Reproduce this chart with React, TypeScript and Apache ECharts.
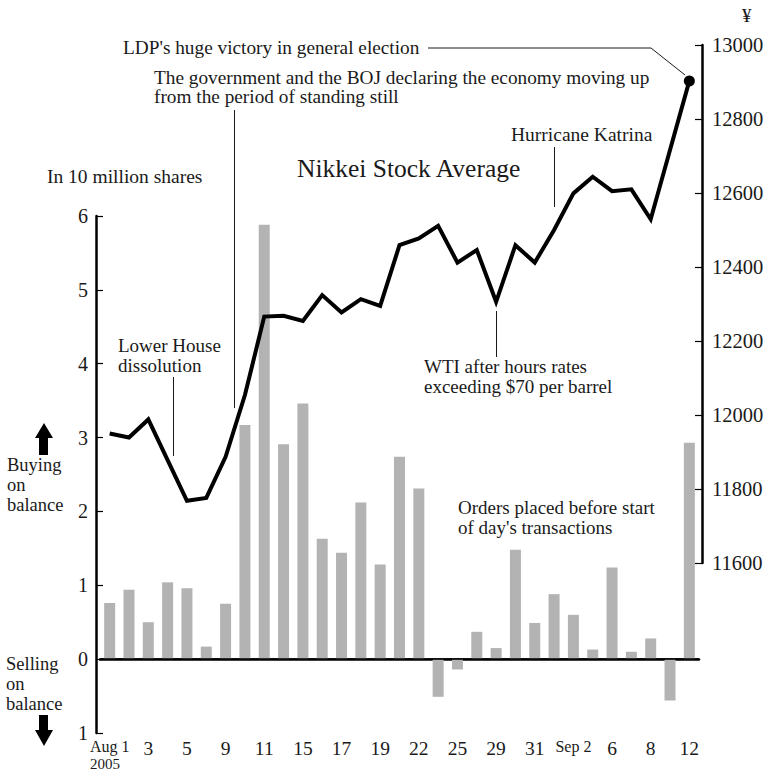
import React, { useEffect, useRef } from "react";
import * as echarts from "echarts";

// Trading-day tick labels (every other day is labelled)
const tickLabels = [
  "Aug 1", "", "3", "", "5", "", "9", "", "11", "", "15", "", "17", "", "19", "",
  "22", "", "25", "", "29", "", "31", "", "Sep 2", "", "6", "", "8", "", "12",
];
const dayIndex = tickLabels.map((_, i) => String(i));

// Orders placed before start of day's transactions (in 10 million shares, + buying / - selling)
const netOrders = [
  0.76, 0.94, 0.5, 1.04, 0.96, 0.17, 0.75, 3.17, 5.88, 2.91, 3.46, 1.63, 1.44, 2.12, 1.28,
  2.74, 2.31, -0.51, -0.14, 0.37, 0.15, 1.48, 0.49, 0.88, 0.6, 0.13, 1.24, 0.1, 0.28, -0.56, 2.93,
];

// Nikkei Stock Average (yen)
const nikkei = [
  11950, 11939, 11988, 11878, 11768, 11776, 11887, 12054, 12266, 12268, 12254, 12324, 12277,
  12313, 12295, 12459, 12477, 12511, 12412, 12446, 12306, 12459, 12412, 12500, 12599, 12644,
  12605, 12610, 12529, 12716, 12903,
];

const leftAxis = { min: -1, max: 6, interval: 1 };
const rightAxis = { min: 11600, max: 13000, interval: 200 };

const FONT = "Liberation Serif";
const INK = "#1a1a1a";

// single-line text, vertically centred on y
function txt(x: number, y: number, text: string, size = 19.5) {
  return {
    type: "text",
    x,
    y,
    silent: true,
    style: {
      text,
      fill: INK,
      fontFamily: FONT,
      fontSize: size,
      align: "left",
      verticalAlign: "middle",
    },
  };
}
// multi-line text, first line centred on y
function mtxt(x: number, y: number, text: string, size = 18.5, lineHeight = 20) {
  return {
    type: "text",
    x,
    y: y - lineHeight / 2,
    silent: true,
    style: {
      text,
      fill: INK,
      fontFamily: FONT,
      fontSize: size,
      lineHeight,
      align: "left",
      verticalAlign: "top",
    },
  };
}
function vline(x: number, y1: number, y2: number) {
  return {
    type: "line",
    silent: true,
    shape: { x1: x, y1, x2: x, y2 },
    style: { stroke: INK, lineWidth: 1 },
  };
}

export default function App() {
  const ref = useRef<HTMLDivElement>(null);
  useEffect(() => {
    if (!ref.current) return;
    const chart = echarts.init(ref.current, undefined, { renderer: "svg" });
    const last = nikkei.length - 1;
    chart.setOption({
      animation: false,
      backgroundColor: "#ffffff",
      textStyle: { fontFamily: FONT, color: INK },
      grid: [
        { left: 100, right: 71, top: 216, bottom: 40 },
        { left: 100, right: 71, top: 45, bottom: 210 },
      ],
      xAxis: [
        {
          type: "category",
          gridIndex: 0,
          data: dayIndex,
          boundaryGap: true,
          axisLine: { lineStyle: { color: "#000", width: 2.5 } },
          axisTick: { inside: true, length: 8, alignWithLabel: true, interval: 0, lineStyle: { color: "#000", width: 1.2 } },
          axisLabel: {
            interval: 1,
            margin: 5,
            color: INK,
            fontSize: 19.5,
            fontFamily: FONT,
            formatter: (_v: string, i: number) => {
              const l = tickLabels[i];
              if (i === 0) return "{a|Aug 1}\n{y|2005}";
              if (l === "Sep 2") return "{s|Sep 2}";
              return l;
            },
            rich: {
              a: { fontSize: 16, fontFamily: FONT, color: INK, align: "left", lineHeight: 17 },
              y: { fontSize: 15, fontFamily: FONT, color: INK, align: "left", lineHeight: 17 },
              s: { fontSize: 16, fontFamily: FONT, color: INK },
            },
          },
          splitLine: { show: false },
        },
        {
          type: "category",
          gridIndex: 1,
          data: dayIndex,
          boundaryGap: true,
          show: false,
        },
      ],
      yAxis: [
        {
          type: "value",
          gridIndex: 0,
          position: "left",
          offset: 4,
          min: leftAxis.min,
          max: leftAxis.max,
          interval: leftAxis.interval,
          axisLine: { show: true, lineStyle: { color: "#000", width: 2.5 } },
          axisTick: { show: true, inside: true, length: 7, lineStyle: { color: "#000", width: 1.2 } },
          axisLabel: {
            margin: 8,
            fontSize: 20,
            color: INK,
            fontFamily: FONT,
            formatter: (v: number) => String(Math.abs(v)),
          },
          splitLine: { show: false },
        },
        {
          type: "value",
          gridIndex: 1,
          position: "right",
          offset: 3,
          min: rightAxis.min,
          max: rightAxis.max,
          interval: rightAxis.interval,
          axisLine: { show: true, lineStyle: { color: "#000", width: 2.5 } },
          axisTick: { show: true, inside: true, length: 7, lineStyle: { color: "#000", width: 1.2 } },
          axisLabel: {
            margin: 10,
            fontSize: 20.5,
            color: INK,
            fontFamily: FONT,
            formatter: (v: number) => String(v),
          },
          splitLine: { show: false },
        },
      ],
      series: [
        {
          type: "bar",
          xAxisIndex: 0,
          yAxisIndex: 0,
          data: netOrders,
          barWidth: 11,
          itemStyle: { color: "#b3b3b3" },
          z: 1,
          markLine: {
            silent: true,
            symbol: "none",
            label: { show: false },
            lineStyle: { color: "#000", width: 1.5, type: "solid" },
            data: [{ yAxis: 0 }],
          },
        },
        {
          type: "line",
          xAxisIndex: 1,
          yAxisIndex: 1,
          data: nikkei,
          showSymbol: true,
          showAllSymbol: true,
          symbol: "circle",
          symbolSize: (_v: number, p: any) => (p.dataIndex === last ? 11 : 0),
          itemStyle: { color: "#000" },
          lineStyle: { color: "#000", width: 4, join: "miter" },
          z: 5,
        },
      ],
      graphic: [
        txt(742, 15, "¥", 19),
        txt(123, 47, "LDP's huge victory in general election", 19.3),
        {
          type: "polyline",
          silent: true,
          shape: { points: [[428, 48], [651, 48], [685, 75]] },
          style: { stroke: INK, lineWidth: 1, fill: null },
        },
        mtxt(154, 77, "The government and the BOJ declaring the economy moving up\nfrom the period of standing still", 19.3, 19),
        vline(234.5, 110, 408),
        txt(511, 134, "Hurricane Katrina"),
        vline(554.5, 147, 207),
        txt(297, 168, "Nikkei Stock Average", 25.5),
        txt(47, 176, "In 10 million shares"),
        mtxt(118, 345, "Lower House\ndissolution", 19, 20),
        vline(173.5, 377, 456),
        mtxt(424, 366, "WTI after hours rates\nexceeding $70 per barrel", 19, 20),
        vline(496.5, 311, 357),
        mtxt(458, 507, "Orders placed before start\nof day's transactions", 19, 20),
        mtxt(7, 465, "Buying\non\nbalance", 18.5, 20),
        mtxt(6, 664, "Selling\non\nbalance", 18.5, 20),
        {
          type: "polygon",
          silent: true,
          shape: { points: [[44, 423], [53, 438], [48, 438], [48, 455], [39, 455], [39, 438], [35, 438]] },
          style: { fill: "#000" },
        },
        {
          type: "polygon",
          silent: true,
          shape: { points: [[39, 715], [48, 715], [48, 730], [53, 730], [44, 746], [35, 730], [39, 730]] },
          style: { fill: "#000" },
        },
      ],
    });
    return () => chart.dispose();
  }, []);
  return (
    <div
      ref={ref}
      style={{ position: "fixed", left: 0, top: 0, width: 770, height: 773, background: "#fff" }}
    />
  );
}
